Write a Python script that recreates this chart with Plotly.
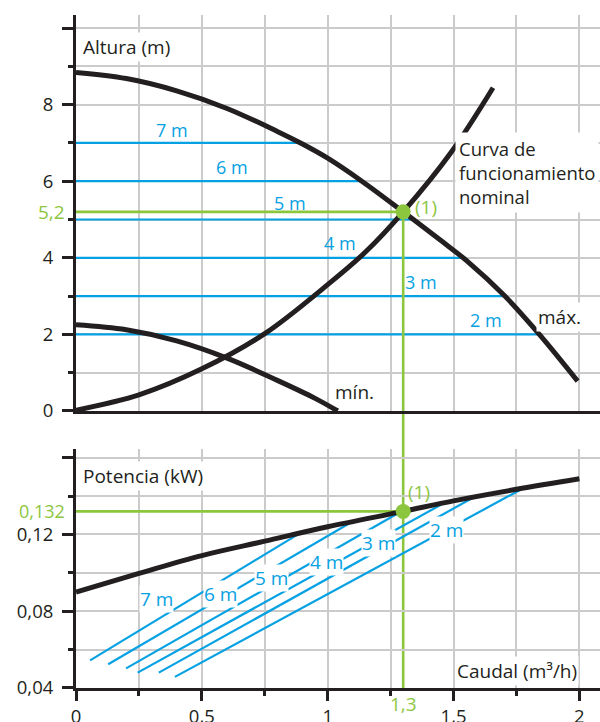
import plotly.graph_objects as go

# ---- axes ----
flow_major = [0, 0.5, 1, 1.5, 2]
flow_major_text = ["0", "0,5", "1", "1,5", "2"]
flow_minor = [0.25, 0.75, 1.25, 1.75]

head_major = [0, 2, 4, 6, 8, 10]
head_major_text = ["0", "2", "4", "6", "8", ""]
head_minor = [1, 3, 5, 7, 9]

power_major = [0.04, 0.08, 0.12, 0.16]
power_major_text = ["0,04", "0,08", "0,12", ""]
power_minor = [0.06, 0.10, 0.14]

# ---- head curves (m) vs flow (m3/h) ----
max_q = [0, 0.2, 0.4, 0.6, 0.8, 0.9, 1.0, 1.14, 1.3, 1.45, 1.553, 1.704, 1.841, 1.993]
max_h = [8.84, 8.68, 8.36, 7.9, 7.3, 6.97, 6.6, 5.98, 5.2, 4.45, 3.92, 3.0, 2.0, 0.78]

min_q = [0, 0.2, 0.4, 0.6, 0.8, 0.95, 1.04]
min_h = [2.25, 2.12, 1.83, 1.38, 0.8, 0.33, 0.0]

sys_q = [0, 0.25, 0.5, 0.75, 1.0, 1.15, 1.3, 1.49, 1.657]
sys_h = [0.02, 0.42, 1.1, 2.02, 3.3, 4.15, 5.2, 6.75, 8.44]

# constant-head lines (top panel)
iso_heads = [7, 6, 5, 4, 3, 2]
iso_labels = ["7 m", "6 m", "5 m", "4 m", "3 m", "2 m"]
iso_end_q = [0.891, 1.135, 1.34, 1.537, 1.704, 1.841]
iso_lab_q = [0.38, 0.62, 0.85, 1.05, 1.37, 1.63]
iso_lab_h = [7.33, 6.38, 5.42, 4.39, 3.38, 2.38]

# ---- power curve (kW) ----
pow_q = [0, 0.25, 0.5, 0.75, 1.0, 1.3, 1.5, 1.75, 2.0]
pow_p = [0.090, 0.0997, 0.109, 0.1165, 0.124, 0.132, 0.1375, 0.1435, 0.149]

# constant-head power lines (bottom panel)
pw_start_q = [0.056, 0.128, 0.199, 0.245, 0.329, 0.393]
pw_start_p = [0.0544, 0.0524, 0.0502, 0.0480, 0.0480, 0.0458]
pw_end_q = [0.89, 1.095, 1.29, 1.464, 1.582, 1.777]
pw_end_p = [0.1207, 0.1265, 0.1318, 0.1365, 0.1395, 0.1441]
pw_lab_q = [0.318, 0.576, 0.778, 0.996, 1.201, 1.473]
pw_lab_p = [0.0866, 0.0892, 0.0971, 0.1057, 0.1153, 0.1223]

# nominal operating point
q_nom = 1.3
h_nom = 5.2
p_nom = 0.132
q_nom_text = "1,3"
h_nom_text = "5,2"
p_nom_text = "0,132"

# ---- styling ----
FONT = "Open Sans"
INK = "#231f20"
BLUE = "#06a1e3"
GREEN = "#8cc63f"
GRID = "#cbcbcb"
TOP_DOMAIN = [0.4116, 1.0]
BOT_DOMAIN = [0.0, 0.3551]

fig = go.Figure()

# top panel: constant-head lines
for h, qe in zip(iso_heads, iso_end_q):
    fig.add_trace(go.Scatter(x=[0, qe], y=[h, h], mode="lines",
                             line=dict(color=BLUE, width=2.2),
                             xaxis="x", yaxis="y", hoverinfo="skip"))

# bottom panel: constant-head power lines
for q0, p0, q1, p1 in zip(pw_start_q, pw_start_p, pw_end_q, pw_end_p):
    fig.add_trace(go.Scatter(x=[q0, q1], y=[p0, p1], mode="lines",
                             line=dict(color=BLUE, width=2.2),
                             xaxis="x2", yaxis="y2", hoverinfo="skip"))

# nominal point guides
fig.add_trace(go.Scatter(x=[0, q_nom], y=[h_nom, h_nom], mode="lines",
                         line=dict(color=GREEN, width=2.6),
                         xaxis="x", yaxis="y", hoverinfo="skip"))
fig.add_trace(go.Scatter(x=[q_nom, q_nom], y=[0, h_nom], mode="lines",
                         line=dict(color=GREEN, width=2.6),
                         xaxis="x", yaxis="y", hoverinfo="skip"))
fig.add_trace(go.Scatter(x=[0, q_nom], y=[p_nom, p_nom], mode="lines",
                         line=dict(color=GREEN, width=2.6),
                         xaxis="x2", yaxis="y2", hoverinfo="skip"))
fig.add_shape(type="line", xref="x2", yref="paper",
              x0=q_nom, x1=q_nom, y0=0, y1=TOP_DOMAIN[0],
              line=dict(color=GREEN, width=2.6), layer="between")

# black curves
curve_line = dict(color=INK, width=5, shape="spline", smoothing=1.0)
fig.add_trace(go.Scatter(x=max_q, y=max_h, mode="lines", line=curve_line,
                         xaxis="x", yaxis="y", hoverinfo="skip"))
fig.add_trace(go.Scatter(x=min_q, y=min_h, mode="lines", line=curve_line,
                         xaxis="x", yaxis="y", hoverinfo="skip"))
fig.add_trace(go.Scatter(x=sys_q, y=sys_h, mode="lines", line=curve_line,
                         xaxis="x", yaxis="y", hoverinfo="skip"))
fig.add_trace(go.Scatter(x=pow_q, y=pow_p, mode="lines", line=curve_line,
                         xaxis="x2", yaxis="y2", hoverinfo="skip"))

# operating point dots
fig.add_trace(go.Scatter(x=[q_nom], y=[h_nom], mode="markers",
                         marker=dict(color=GREEN, size=15),
                         xaxis="x", yaxis="y", hoverinfo="skip"))
fig.add_trace(go.Scatter(x=[q_nom], y=[p_nom], mode="markers",
                         marker=dict(color=GREEN, size=15),
                         xaxis="x2", yaxis="y2", hoverinfo="skip"))

ann = []
# blue head labels, top
for t, q, h in zip(iso_labels, iso_lab_q, iso_lab_h):
    ann.append(dict(x=q, y=h, xref="x", yref="y", text=t, showarrow=False,
                    font=dict(family=FONT, size=18, color=BLUE)))
# blue head labels, bottom
for t, q, p in zip(iso_labels, pw_lab_q, pw_lab_p):
    ann.append(dict(x=q, y=p, xref="x2", yref="y2", text=t, showarrow=False,
                    bgcolor="white", borderpad=0,
                    font=dict(family=FONT, size=19, color=BLUE)))

black = dict(family=FONT, size=19, color=INK)
green = dict(family=FONT, size=19, color=GREEN)
ann += [
    dict(x=0.02, y=9.5, xref="x", yref="y", text="Altura (m)", showarrow=False,
         xanchor="left", bgcolor="white", font=black),
    dict(x=1.505, y=6.24, xref="x", yref="y",
         text="Curva de<br>funcionamiento<br>nominal", showarrow=False,
         xanchor="left", align="left", bgcolor="white", borderpad=3,
         font=dict(family=FONT, size=18.5, color=INK)),
    dict(x=1.92, y=2.45, xref="x", yref="y", text="máx.", showarrow=False,
         bgcolor="white", font=black),
    dict(x=1.105, y=0.5, xref="x", yref="y", text="mín.", showarrow=False,
         font=black),
    dict(x=q_nom, y=h_nom, xref="x", yref="y", text="(1)", showarrow=False,
         xanchor="left", xshift=10, yshift=5, font=green),
    dict(x=0, y=h_nom, xref="x", yref="y", text=h_nom_text, showarrow=False,
         xanchor="right", xshift=-9, font=green),
    dict(x=0.02, y=0.1505, xref="x2", yref="y2", text="Potencia (kW)",
         showarrow=False, xanchor="left", bgcolor="white", font=black),
    dict(x=q_nom, y=p_nom, xref="x2", yref="y2", text="(1)", showarrow=False,
         xanchor="left", xshift=3, yshift=19, font=green),
    dict(x=0, y=p_nom, xref="x2", yref="y2", text=p_nom_text, showarrow=False,
         xanchor="right", xshift=-9, font=dict(family=FONT, size=18, color=GREEN)),
    dict(x=q_nom, y=0.04, xref="x2", yref="y2", text=q_nom_text,
         showarrow=False, yanchor="top", yshift=-1, font=green),
    dict(x=2.0, y=0.049, xref="x2", yref="y2", text="Caudal (m³/h)",
         showarrow=False, xanchor="right", bgcolor="white", font=black),
]

tickfont = dict(family=FONT, size=18.5, color=INK)
common_x = dict(range=[0, 2.082], showgrid=True, gridcolor=GRID, gridwidth=1.5,
                zeroline=False, showline=True, linecolor=INK, linewidth=3,
                tickmode="array", tickvals=flow_major, ticktext=flow_major_text,
                fixedrange=True, automargin=False)

fig.update_layout(
    template="none",
    width=600, height=722, autosize=False,
    margin=dict(l=76, r=0, t=15, b=34, pad=0),
    paper_bgcolor="white", plot_bgcolor="white",
    showlegend=False,
    font=dict(family=FONT, color=INK),
    xaxis=dict(common_x, anchor="y", domain=[0, 1], ticks="",
               showticklabels=False,
               minor=dict(tickvals=flow_minor, showgrid=True,
                          gridcolor=GRID, gridwidth=1.5)),
    xaxis2=dict(common_x, anchor="y2", domain=[0, 1], ticks="outside",
                ticklen=10, tickwidth=2.5, tickcolor=INK, tickfont=tickfont,
                ticklabelstandoff=0,
                minor=dict(tickvals=flow_minor, ticks="outside", ticklen=5,
                           tickwidth=2.5, tickcolor=INK, showgrid=True,
                           gridcolor=GRID, gridwidth=1.5)),
    yaxis=dict(anchor="x", domain=TOP_DOMAIN, range=[0, 10.34],
               showgrid=True, gridcolor=GRID, gridwidth=1.5, zeroline=False,
               showline=True, linecolor=INK, linewidth=3, automargin=False,
               tickmode="array", tickvals=head_major, ticktext=head_major_text,
               ticks="outside", ticklen=11, tickwidth=2.5, tickcolor=INK,
               tickfont=tickfont, ticklabelstandoff=5, fixedrange=True,
               minor=dict(tickvals=head_minor, ticks="outside", ticklen=5,
                          tickwidth=2.5, tickcolor=INK, showgrid=True,
                          gridcolor=GRID, gridwidth=1.5)),
    yaxis2=dict(anchor="x2", domain=BOT_DOMAIN, range=[0.04, 0.1645],
                showgrid=True, gridcolor=GRID, gridwidth=1.5, zeroline=False,
                showline=True, linecolor=INK, linewidth=3, automargin=False,
                tickmode="array", tickvals=power_major,
                ticktext=power_major_text,
                ticks="outside", ticklen=11, tickwidth=2.5, tickcolor=INK,
                tickfont=tickfont, ticklabelstandoff=5, fixedrange=True,
                minor=dict(tickvals=power_minor, ticks="outside", ticklen=5,
                           tickwidth=2.5, tickcolor=INK, showgrid=True,
                           gridcolor=GRID, gridwidth=1.5)),
    annotations=ann,
)

fig.write_html("out.html", config={"displayModeBar": False})
